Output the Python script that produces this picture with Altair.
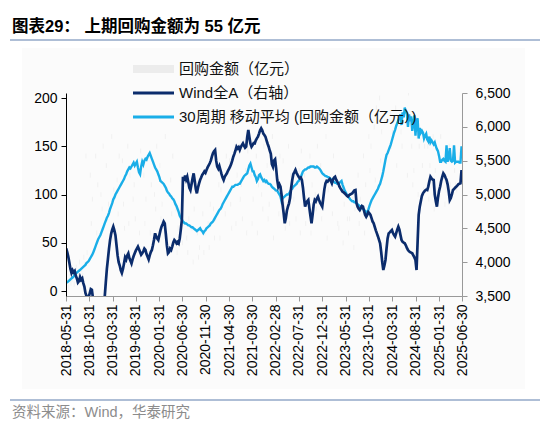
import altair as alt
import pandas as pd

title_text = "图表29： 上期回购金额为 55 亿元"
source_text = "资料来源：Wind，华泰研究"
legend_labels = ["回购金额（亿元）", "Wind全A（右轴）", "30周期 移动平均 (回购金额（亿元）)"]
tick_dates = ["2018-05-31", "2018-10-31", "2019-03-31", "2019-08-31", "2020-01-31",
              "2020-06-30", "2020-11-30", "2021-04-30", "2021-09-30", "2022-02-28",
              "2022-07-31", "2022-12-31", "2023-05-31", "2023-10-31", "2024-03-31",
              "2024-08-31", "2025-01-31", "2025-06-30"]
left_ticks = [0, 50, 100, 150, 200]
right_ticks = [3500, 4000, 4500, 5000, 5500, 6000, 6500]

# weekly repurchase amount (亿元)
buyback = [
    6, 10, 4, 15, 8, 12, 20, 7, 14, 25,
    9, 18, 30, 12, 22, 16, 35, 28, 140, 40,
    235, 250, 120, 70, 95, 245, 215, 140, 60, 110,
    255, 230, 100, 85, 150, 240, 260, 130, 75, 90,
    220, 245, 160, 55, 105, 250, 235, 115, 80, 140,
    260, 210, 135, 90, 65, 230, 255, 150, 70, 120,
    240, 225, 95, 110, 75, 255, 245, 125, 60, 145,
    235, 250, 120, 70, 95, 245, 215, 140, 60, 110,
    255, 230, 100, 85, 150, 240, 260, 130, 75, 90,
    220, 245, 160, 55, 105, 250, 235, 115, 80, 140,
    260, 210, 85, 40, 65, 230, 255, 90, 50, 70,
    240, 225, 55, 40, 75, 255, 245, 65, 30, 85,
    235, 250, 60, 35, 45, 245, 215, 80, 40, 60,
    255, 230, 70, 45, 90, 240, 260, 85, 55, 75,
    220, 245, 110, 55, 105, 250, 235, 115, 80, 140,
    260, 210, 135, 90, 65, 230, 255, 150, 70, 120,
    240, 225, 95, 110, 75, 255, 245, 125, 60, 145,
    235, 250, 120, 70, 95, 245, 215, 140, 60, 110,
    255, 230, 100, 85, 150, 240, 260, 130, 75, 90,
    220, 245, 160, 55, 105, 250, 235, 115, 80, 140,
    260, 210, 135, 90, 65, 230, 255, 150, 70, 120,
    240, 225, 95, 110, 75, 255, 245, 125, 60, 145,
    235, 250, 120, 70, 95, 245, 215, 140, 60, 110,
    255, 230, 100, 85, 150, 240, 260, 130, 75, 90,
    220, 245, 160, 55, 105, 250, 235, 115, 80, 140,
    260, 210, 115, 70, 65, 230, 255, 110, 50, 90,
    240, 225, 75, 60, 75, 255, 245, 95, 45, 85,
    235, 250, 120, 70, 95, 245, 215, 140, 60, 110,
    255, 230, 160, 125, 150, 240, 260, 170, 115, 190,
    220, 245, 200, 135, 165, 250, 235, 175, 140, 210,
    260, 240, 185, 150, 165, 230, 255, 190, 130, 180,
    240, 225, 165, 150, 175, 255, 245, 185, 120, 205,
    235, 250, 150, 110, 125, 245, 215, 160, 100, 150,
    255, 230, 130, 105, 150, 240, 260, 150, 95, 130,
    220, 245, 160, 85, 125, 250, 235, 145, 100, 160,
    260, 210, 135, 90, 105, 230, 255, 150, 110, 140,
    240, 225, 125, 110, 105, 255, 245, 145, 60, 55,
]

# Wind All-A index (right axis)
wind_a = [
    4205, 4150, 4080, 3990, 3900, 3840, 3880, 3850, 3870, 3800,
    3760, 3700, 3720, 3780, 3740, 3760, 3690, 3640, 3545, 3500,
    3460, 3480, 3540, 3600, 3590, 3470, 3420, 3380, 3400, 3350,
    3310, 3280, 3300, 3340, 3380, 3420, 3490, 3700, 3900, 4050,
    4200, 4330, 4420, 4480, 4525, 4470, 4400, 4250, 4100, 4000,
    3950, 3880, 3840, 3900, 3980, 4070, 4040, 4100, 4130, 4060,
    4020, 3980, 4040, 4090, 4130, 4170, 4200, 4230, 4190, 4150,
    4110, 4130, 4160, 4200, 4180, 4120, 4080, 4040, 4100, 4150,
    4180, 4250, 4330, 4426, 4380, 4350, 4328, 4400, 4470, 4524,
    4560, 4600, 4574, 4420, 4250, 4131, 4150, 4200, 4180, 4230,
    4290, 4328, 4310, 4280, 4300, 4279, 4350, 4480, 4623, 5263,
    5200, 5280, 5220, 5263, 5180, 5100, 5066, 5150, 5240, 5313,
    5200, 5080, 5017, 5100, 5160, 5214, 5250, 5290, 5313, 5340,
    5320, 5362, 5400, 5430, 5461, 5500, 5560, 5609, 5640, 5658,
    5500, 5411, 5380, 5420, 5362, 5300, 5250, 5214, 5260, 5290,
    5313, 5350, 5380, 5411, 5450, 5500, 5558, 5600, 5650, 5706,
    5680, 5700, 5658, 5700, 5730, 5756, 5720, 5690, 5706, 5850,
    5953, 5850, 5750, 5706, 5730, 5760, 5756, 5800, 5830, 5854,
    5900, 5950, 5978, 5950, 5900, 5880, 5854, 5800, 5750, 5706,
    5650, 5600, 5450, 5411, 5500, 5520, 5380, 5214, 5115, 5150,
    5115, 5000, 4850, 4722, 4574, 4650, 4760, 4820, 4870, 4950,
    5100, 5214, 5300, 5330, 5362, 5320, 5290, 5263, 5240, 5250,
    5214, 5100, 4950, 4820, 4870, 4900, 4919, 4800, 4680, 4574,
    4700, 4850, 4919, 4900, 4940, 4968, 4920, 4880, 4850, 4820,
    4950, 5080, 5165, 5200, 5190, 5214, 5230, 5200, 5165, 5220,
    5250, 5263, 5220, 5190, 5165, 5120, 5090, 5066, 5040, 5030,
    5017, 5000, 4980, 4968, 4990, 5000, 5010, 5017, 5040, 5060,
    5066, 4870, 4820, 4790, 4771, 4800, 4830, 4820, 4760, 4700,
    4672, 4700, 4740, 4722, 4700, 4650, 4600, 4574, 4520, 4470,
    4426, 4380, 4330, 4279, 4150, 4000, 3884, 3950, 4032, 4200,
    4350, 4426, 4440, 4460, 4475, 4430, 4400, 4377, 4430, 4480,
    4524, 4480, 4400, 4328, 4300, 4290, 4279, 4250, 4210, 4180,
    4160, 4150, 4140, 4131, 4100, 4070, 4032, 3884, 4300, 4700,
    4820, 4900, 4980, 5017, 5040, 5060, 5070, 5066, 5120, 5200,
    5263, 5240, 5220, 5214, 5000, 4900, 4820, 4950, 5050, 5115,
    5200, 5260, 5313, 5290, 5250, 5214, 5150, 5050, 4919, 4950,
    5000, 5066, 5080, 5100, 5115, 5130, 5150, 5160, 5165, 5362,
]

# 30-period moving average of repurchase amount (left axis)
ma30 = [
    8.6, 9, 10, 11, 12, 13, 14, 15, 17, 18,
    19, 20, 21, 22, 23, 24, 25, 26, 27, 29,
    30, 31, 33, 35, 37, 39, 42, 45, 48, 51,
    54, 56, 58, 61, 64, 67, 70, 73, 76, 78,
    81, 85, 88, 91, 95, 97, 100, 102, 104, 106,
    108, 110, 112, 114, 116, 119, 121, 124, 126, 128,
    127, 129, 131, 133, 130, 132, 134, 128, 123, 121,
    129, 134, 131, 135, 137, 136, 139, 141, 143, 140,
    137, 134, 131, 128, 126, 124, 121, 118, 114, 113,
    112, 111, 109, 107, 104, 102, 101, 99, 98, 96,
    95, 93, 90, 88, 85, 82, 78, 76, 74, 72,
    71, 70, 70, 69, 68, 68, 67, 66, 66, 65,
    64, 63, 62, 63, 64, 65, 63, 62, 60, 62,
    63, 65, 66, 67, 68, 70, 71, 72, 74, 76,
    78, 80, 82, 84, 85, 87, 90, 92, 94, 96,
    98, 100, 102, 104, 106, 108, 108, 109, 110, 110,
    110, 111, 111, 113, 115, 117, 119, 120, 121, 122,
    126, 130, 132, 128, 124, 124, 120, 118, 114, 116,
    120, 121, 118, 116, 114, 115, 113, 114, 112, 111,
    111, 110, 108, 107, 106, 105, 104, 104, 102, 100,
    98, 93, 96, 97, 98, 99, 100, 100, 101, 103,
    105, 106, 108, 109, 110, 111, 113, 114, 116, 118,
    121, 124, 125, 126, 126, 127, 128, 128, 129, 129,
    129, 129, 128, 128, 129, 128, 127, 126, 124, 122,
    121, 120, 119, 119, 118, 118, 117, 116, 115, 114,
    113, 112, 112, 111, 111, 112, 113, 114, 110, 107,
    104, 102, 100, 98, 97, 95, 94, 93, 93, 92,
    92, 91, 90, 89, 88, 88, 86, 85, 84, 83,
    82, 81, 84, 88, 91, 94, 96, 98, 100, 102,
    104, 106, 109, 111, 115, 119, 124, 130, 136, 141,
    143, 146, 149, 152, 156, 160, 164, 167, 171, 174,
    177, 180, 183, 172, 185, 180, 190, 186, 184, 170,
    183, 176, 181, 166, 174, 182, 161, 176, 179, 158,
    169, 164, 166, 164, 158, 161, 163, 157, 155, 160,
    154, 156, 154, 152, 154, 150, 147, 145, 140, 134,
    134, 136, 137, 135, 134, 151, 134, 138, 148, 135,
    134, 135, 151, 133, 134, 134, 134, 133, 133, 150,
]


def weekly(values, name):
    d = pd.date_range("2018-06-01", periods=len(values), freq="7D")
    return pd.DataFrame({
        "date": d.strftime("%Y-%m-%d"),
        "end": (d + pd.Timedelta(days=7)).strftime("%Y-%m-%d"),
        name: values,
    })


def dt(s):
    y, m, d = (int(p) for p in s.split("-"))
    return alt.DateTime(year=y, month=m, date=d, utc=True)


df_b = weekly(buyback, "v")
df_w = weekly(wind_a, "w")
df_m = weekly(ma30, "m")

FONT = "Liberation Sans, Arial, Noto Sans CJK SC"
CJK = "Liberation Sans, Noto Sans CJK SC"
DARK = "#0b2c6c"
LIGHT = "#1aaee8"
BARC = "#ececec"
AX_FS = 14

x_scale = alt.Scale(type="utc", domain=[dt(tick_dates[0]), dt(tick_dates[-1])])
x_axis = alt.Axis(values=[dt(s) for s in tick_dates],
                  labelExpr="utcFormat(datum.value, '%Y-%m-%d')",
                  labelAngle=-90, labelFont=FONT, labelFontSize=AX_FS, labelColor="#000",
                  labelPadding=3, tickSize=5, domainColor="#999", tickColor="#999",
                  grid=False, title=None, labelOverlap=False, labelFlush=False,
                  labelBound=False, zindex=2)
left_axis = alt.Axis(orient="left", values=left_ticks, format=".0f", labelFont=FONT,
                     labelFontSize=AX_FS, labelColor="#000", domainColor="#000",
                     tickColor="#000", tickSize=5, labelPadding=4, grid=False,
                     title=None, zindex=2)
right_axis = alt.Axis(orient="right", values=right_ticks, format=",.0f", labelFont=FONT,
                      labelFontSize=AX_FS, labelColor="#000", domainColor="#999",
                      tickColor="#999", tickSize=5, labelPadding=8, grid=False,
                      title=None, zindex=2)

y_left = alt.Scale(domain=[0, 200], nice=False)

bars = alt.Chart(df_b).mark_bar(color=BARC, clip=True, stroke="white",
                                strokeWidth=0.35).encode(
    x=alt.X("date:T", scale=x_scale, axis=x_axis),
    x2="end:T",
    y=alt.Y("v:Q", scale=y_left, axis=left_axis),
)
ma_line = alt.Chart(df_m).mark_line(color=LIGHT, strokeWidth=2.4, clip=True).encode(
    x=alt.X("date:T", scale=x_scale, axis=x_axis),
    y=alt.Y("m:Q", scale=y_left, axis=left_axis),
)
left_layer = alt.layer(bars, ma_line)

wind_line = alt.Chart(df_w).mark_line(color=DARK, strokeWidth=2.7, clip=True).encode(
    x=alt.X("date:T", scale=x_scale, axis=x_axis),
    y=alt.Y("w:Q", scale=alt.Scale(domain=[3500, 6500], nice=False, zero=False), axis=right_axis),
)

one = pd.DataFrame({"k": [0]})

panel = alt.Chart(one).mark_rect(color="#fbfbfb").encode(
    x=alt.value(-44), x2=alt.value(459), y=alt.value(-45), y2=alt.value(296))
rule_top = alt.Chart(one).mark_rule(color="#93a9c9", strokeWidth=1.5).encode(
    x=alt.value(-56), x2=alt.value(474), y=alt.value(-53))
rule_bot = alt.Chart(one).mark_rule(color="#93a9c9", strokeWidth=1.5).encode(
    x=alt.value(-56), x2=alt.value(474), y=alt.value(307))
title = alt.Chart(pd.DataFrame({"t": [title_text]})).mark_text(
    align="left", baseline="middle", font=CJK, fontSize=16.5, fontWeight="bold", color="#000"
).encode(x=alt.value(-54), y=alt.value(-66), text="t:N")
source = alt.Chart(pd.DataFrame({"t": [source_text]})).mark_text(
    align="left", baseline="middle", font=CJK, fontSize=14.5, color="#8c8c8c"
).encode(x=alt.value(-54), y=alt.value(320), text="t:N")

leg_box = alt.Chart(one).mark_rect(color=BARC).encode(
    x=alt.value(67), x2=alt.value(108), y=alt.value(-28), y2=alt.value(-20))
leg_dark = alt.Chart(one).mark_rule(color=DARK, strokeWidth=3).encode(
    x=alt.value(67), x2=alt.value(108), y=alt.value(0))
leg_light = alt.Chart(one).mark_rule(color=LIGHT, strokeWidth=3).encode(
    x=alt.value(67), x2=alt.value(108), y=alt.value(24))
leg_texts = []
for lab, yy in zip(legend_labels, [-24, 0, 24]):
    leg_texts.append(alt.Chart(pd.DataFrame({"t": [lab]})).mark_text(
        align="left", baseline="middle", font=CJK, fontSize=15, color="#111"
    ).encode(x=alt.value(113), y=alt.value(yy), text="t:N"))

chart = alt.layer(
    panel, rule_top, rule_bot, title, source,
    left_layer, wind_line,
    leg_box, leg_dark, leg_light, *leg_texts,
).resolve_scale(y="independent").properties(
    width=396, height=203,
    padding={"left": 58, "top": 85, "right": 80, "bottom": 132},
    autosize=alt.AutoSizeParams(type="none"),
    background="white",
).configure_view(stroke=None)

chart.save("out.html", embed_options={"renderer": "svg", "actions": False})
